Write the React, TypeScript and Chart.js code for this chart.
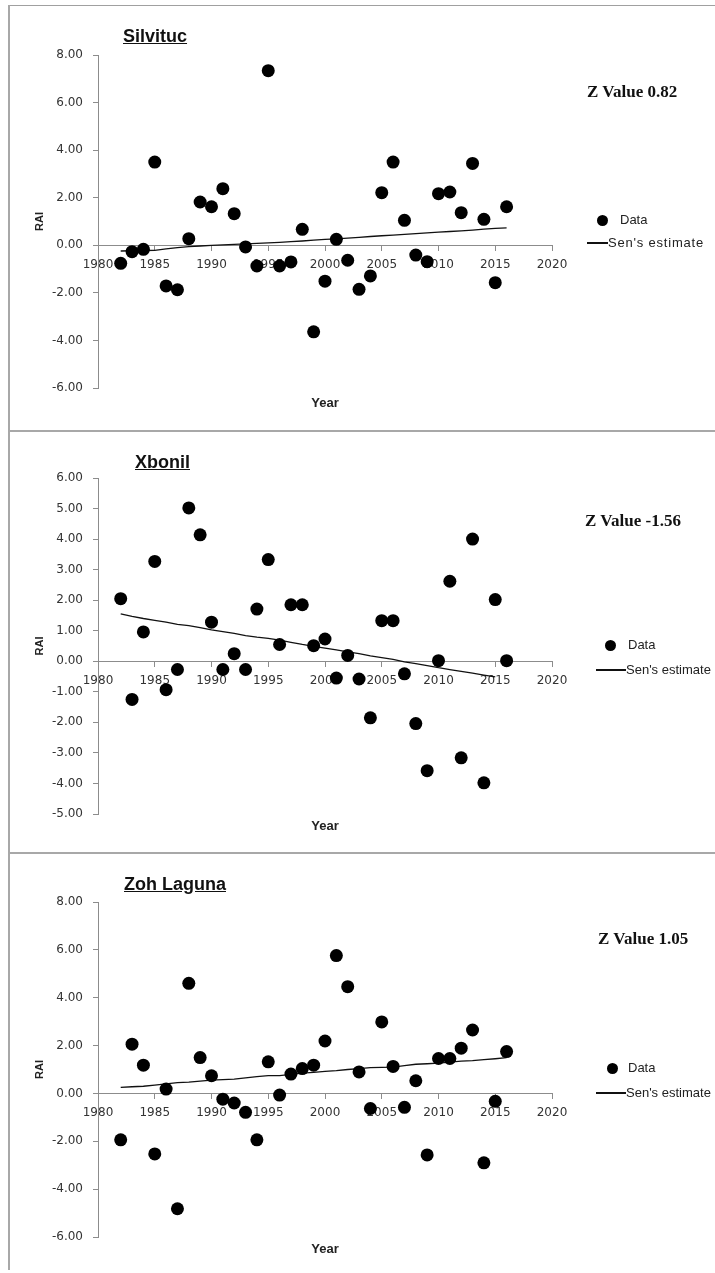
import React, { useEffect, useRef } from 'react';
import { Chart, registerables } from 'chart.js';

Chart.register(...registerables);

// ---------- data ----------
const years = [1982, 1983, 1984, 1985, 1986, 1987, 1988, 1989, 1990, 1991, 1992, 1993, 1994, 1995, 1996, 1997, 1998, 1999, 2000, 2001, 2002, 2003, 2004, 2005, 2006, 2007, 2008, 2009, 2010, 2011, 2012, 2013, 2014, 2015, 2016];

const silvitucRAI = [-0.76, -0.27, -0.17, 3.5, -1.71, -1.87, 0.28, 1.82, 1.62, 2.38, 1.33, -0.07, -0.87, 7.34, -0.87, -0.7, 0.67, -3.64, -1.51, 0.25, -0.63, -1.85, -1.29, 2.21, 3.5, 1.05, -0.41, -0.69, 2.17, 2.24, 1.37, 3.44, 1.09, -1.57, 1.62];
const silvitucSen = [-0.24, -0.23, -0.22, -0.21, -0.15, -0.1, -0.06, -0.03, 0.0, 0.02, 0.04, 0.06, 0.08, 0.1, 0.12, 0.15, 0.18, 0.22, 0.25, 0.27, 0.3, 0.33, 0.37, 0.4, 0.43, 0.46, 0.49, 0.52, 0.55, 0.58, 0.61, 0.64, 0.68, 0.71, 0.73];

const xbonilRAI = [2.05, -1.25, 0.96, 3.27, -0.93, -0.27, 5.02, 4.14, 1.28, -0.27, 0.25, -0.27, 1.71, 3.33, 0.55, 1.85, 1.85, 0.51, 0.73, -0.55, 0.19, -0.58, -1.85, 1.33, 1.33, -0.41, -2.04, -3.58, 0.02, 2.62, -3.16, 4.0, -3.98, 2.02, 0.02];
const xbonilSen = [1.55, 1.47, 1.4, 1.34, 1.28, 1.21, 1.17, 1.1, 1.03, 0.97, 0.91, 0.84, 0.79, 0.75, 0.69, 0.62, 0.55, 0.49, 0.43, 0.37, 0.31, 0.25, 0.18, 0.12, 0.06, -0.02, -0.08, -0.14, -0.21, -0.27, -0.33, -0.39, -0.45, -0.51, null];

const zohRAI = [-1.94, 2.06, 1.18, -2.53, 0.18, -4.82, 4.6, 1.5, 0.74, -0.24, -0.4, -0.79, -1.94, 1.32, -0.07, 0.81, 1.04, 1.18, 2.19, 5.76, 4.46, 0.9, -0.63, 2.99, 1.13, -0.58, 0.53, -2.57, 1.46, 1.46, 1.89, 2.65, -2.9, -0.33, 1.75];
const zohSen = [0.25, 0.28, 0.3, 0.35, 0.4, 0.45, 0.47, 0.51, 0.56, 0.58, 0.6, 0.65, 0.7, 0.74, 0.74, 0.8, 0.85, 0.88, 0.92, 0.95, 1.0, 1.04, 1.08, 1.09, 1.1, 1.16, 1.22, 1.24, 1.27, 1.31, 1.35, 1.37, 1.41, 1.45, 1.5];

const xTickValues = [1980, 1985, 1990, 1995, 2000, 2005, 2010, 2015, 2020];
const xTickLabels = ['1980', '1985', '1990', '1995', '2000', '2005', '2010', '2015', '2020'];

const yTicksWide = [-6, -4, -2, 0, 2, 4, 6, 8];
const yLabelsWide = ['-6.00', '-4.00', '-2.00', '0.00', '2.00', '4.00', '6.00', '8.00'];
const yTicksXbonil = [-5, -4, -3, -2, -1, 0, 1, 2, 3, 4, 5, 6];
const yLabelsXbonil = ['-5.00', '-4.00', '-3.00', '-2.00', '-1.00', '0.00', '1.00', '2.00', '3.00', '4.00', '5.00', '6.00'];

const stationNames = ['Silvituc', 'Xbonil', 'Zoh Laguna'];
const zValueLabels = ['Z Value 0.82', 'Z Value -1.56', 'Z Value 1.05'];
const legendLabels = ['Data', "Sen's estimate"];
const axisTitles = ['Year', 'RAI'];

// ---------- layout (positions only) ----------
const W = 715;
const AXIS_LEFT = 98;
const AXIS_RIGHT = 552;

type Layout = {
  top: number; height: number; plotTop: number; plotBottom: number;
  titleX: number; titleTop: number;
  zX: number; zTop: number;
  markerX: number; dataTextX: number; dataY: number;
  lineX1: number; lineX2: number; senTextX: number; senY: number; senSpacing: number;
  yearY: number;
};

const layouts: Layout[] = [
  { top: 5, height: 426, plotTop: 55, plotBottom: 388, titleX: 123, titleTop: 26, zX: 587, zTop: 82, markerX: 602, dataTextX: 620, dataY: 220, lineX1: 587, lineX2: 608, senTextX: 608, senY: 243, senSpacing: 0.8, yearY: 403 },
  { top: 431, height: 422, plotTop: 478, plotBottom: 814, titleX: 135, titleTop: 452, zX: 585, zTop: 511, markerX: 610, dataTextX: 628, dataY: 645, lineX1: 596, lineX2: 626, senTextX: 626, senY: 670, senSpacing: 0, yearY: 826 },
  { top: 853, height: 420, plotTop: 902, plotBottom: 1237, titleX: 124, titleTop: 874, zX: 598, zTop: 929, markerX: 612, dataTextX: 628, dataY: 1068, lineX1: 596, lineX2: 626, senTextX: 626, senY: 1093, senSpacing: 0, yearY: 1249 },
];

const AXIS_COLOR = '#8c8c8c';
const TICK_FONT = { family: 'DejaVu Sans', size: 12 };

type PanelProps = {
  idx: number;
  rai: number[];
  sen: (number | null)[];
  yTicks: number[];
  yLabels: string[];
};

function Panel({ idx, rai, sen, yTicks, yLabels }: PanelProps) {
  const ref = useRef<HTMLCanvasElement>(null);
  const L = layouts[idx];

  useEffect(() => {
    if (!ref.current) return;
    const points = years.map((x, i) => ({ x, y: rai[i] }));
    const senPts = years
      .map((x, i) => (sen[i] === null || sen[i] === undefined ? null : { x, y: sen[i] as number }))
      .filter((p) => p !== null) as { x: number; y: number }[];

    const chart = new Chart(ref.current, {
      type: 'scatter',
      data: {
        datasets: [
          {
            label: legendLabels[0],
            data: points,
            backgroundColor: '#000',
            borderColor: '#000',
            pointRadius: 6.5,
            pointBorderWidth: 0,
            showLine: false,
            order: 0,
          },
          {
            label: legendLabels[1],
            data: senPts,
            showLine: true,
            borderColor: '#111',
            borderWidth: 1.3,
            pointRadius: 0,
            fill: false,
            order: 1,
          },
        ],
      },
      options: {
        responsive: false,
        animation: false,
        devicePixelRatio: 1,
        layout: {
          padding: {
            left: 0,
            top: L.plotTop - L.top,
            right: W - AXIS_RIGHT,
            bottom: L.height - (L.plotBottom - L.top),
          },
        },
        plugins: { legend: { display: false }, tooltip: { enabled: false } },
        scales: {
          x: {
            type: 'linear',
            position: { y: 0 } as any,
            min: xTickValues[0],
            max: xTickValues[xTickValues.length - 1],
            afterBuildTicks: (s: any) => {
              s.ticks = xTickValues.map((v) => ({ value: v }));
            },
            ticks: {
              callback: (_v: any, i: number) => xTickLabels[i],
              font: TICK_FONT,
              color: '#333',
              padding: 7,
              maxRotation: 0,
              autoSkip: false,
            },
            grid: { drawOnChartArea: false, drawTicks: true, tickLength: 5, color: AXIS_COLOR },
            border: { color: AXIS_COLOR, width: 1 },
          },
          y: {
            type: 'linear',
            min: yTicks[0],
            max: yTicks[yTicks.length - 1],
            afterBuildTicks: (s: any) => {
              s.ticks = yTicks.map((v) => ({ value: v }));
            },
            afterFit: (s: any) => {
              s.width = AXIS_LEFT;
            },
            ticks: {
              callback: (_v: any, i: number) => yLabels[i],
              font: TICK_FONT,
              color: '#333',
              padding: 10,
              autoSkip: false,
            },
            grid: { drawOnChartArea: false, drawTicks: true, tickLength: 5, color: AXIS_COLOR },
            border: { color: AXIS_COLOR, width: 1 },
            title: {
              display: true,
              text: axisTitles[1],
              color: '#222',
              font: { family: 'Liberation Sans', size: 11, weight: 'bold' },
              padding: { top: 33, bottom: 0 },
            },
          },
        },
      },
    } as any);
    return () => chart.destroy();
  }, []);

  const txt = (extra: React.CSSProperties): React.CSSProperties => ({
    position: 'absolute',
    whiteSpace: 'nowrap',
    margin: 0,
    ...extra,
  });

  return (
    <>
      <canvas
        ref={ref}
        width={W}
        height={L.height}
        style={{ position: 'absolute', left: 0, top: L.top, width: W, height: L.height, display: 'block' }}
      />
      <div
        style={txt({
          left: L.titleX,
          top: L.titleTop,
          fontFamily: 'Liberation Sans',
          fontWeight: 'bold',
          fontSize: 18,
          lineHeight: '20px',
          textDecoration: 'underline',
          color: '#111',
        })}
      >
        {stationNames[idx]}
      </div>
      <div
        style={txt({
          left: L.zX,
          top: L.zTop,
          fontFamily: 'Liberation Serif',
          fontWeight: 'bold',
          fontSize: 17,
          lineHeight: '20px',
          color: '#111',
        })}
      >
        {zValueLabels[idx]}
      </div>
      <div
        style={{
          position: 'absolute',
          left: L.markerX - 5.5,
          top: L.dataY - 5.5,
          width: 11,
          height: 11,
          borderRadius: '50%',
          background: '#000',
        }}
      />
      <div
        style={txt({
          left: L.dataTextX,
          top: L.dataY - 8,
          fontFamily: 'Liberation Sans',
          fontSize: 13,
          lineHeight: '16px',
          color: '#222',
        })}
      >
        {legendLabels[0]}
      </div>
      <div
        style={{
          position: 'absolute',
          left: L.lineX1,
          top: L.senY - 0.7,
          width: L.lineX2 - L.lineX1,
          height: 1.4,
          background: '#111',
        }}
      />
      <div
        style={txt({
          left: L.senTextX,
          top: L.senY - 8,
          fontFamily: 'Liberation Sans',
          fontSize: 13,
          lineHeight: '16px',
          letterSpacing: L.senSpacing,
          color: '#222',
        })}
      >
        {legendLabels[1]}
      </div>
      <div
        style={txt({
          left: (AXIS_LEFT + AXIS_RIGHT) / 2 - 40,
          width: 80,
          textAlign: 'center',
          top: L.yearY - 8,
          fontFamily: 'Liberation Sans',
          fontWeight: 'bold',
          fontSize: 13,
          lineHeight: '16px',
          color: '#222',
        })}
      >
        {axisTitles[0]}
      </div>
    </>
  );
}

export default function App() {
  return (
    <div
      style={{
        position: 'absolute',
        left: 0,
        top: 0,
        width: W,
        height: 1273,
        background: '#fff',
        overflow: 'hidden',
      }}
    >
      {/* frame lines */}
      <div style={{ position: 'absolute', left: 8, top: 5, width: W - 8, height: 1, background: '#a0a0a0' }} />
      <div style={{ position: 'absolute', left: 8, top: 5, width: 2, height: 1265, background: '#a8a8a8' }} />
      <div style={{ position: 'absolute', left: 8, top: 430, width: W - 8, height: 2, background: '#a8a8a8' }} />
      <div style={{ position: 'absolute', left: 8, top: 852, width: W - 8, height: 2, background: '#a8a8a8' }} />

      <Panel idx={0} rai={silvitucRAI} sen={silvitucSen} yTicks={yTicksWide} yLabels={yLabelsWide} />
      <Panel idx={1} rai={xbonilRAI} sen={xbonilSen} yTicks={yTicksXbonil} yLabels={yLabelsXbonil} />
      <Panel idx={2} rai={zohRAI} sen={zohSen} yTicks={yTicksWide} yLabels={yLabelsWide} />
    </div>
  );
}
